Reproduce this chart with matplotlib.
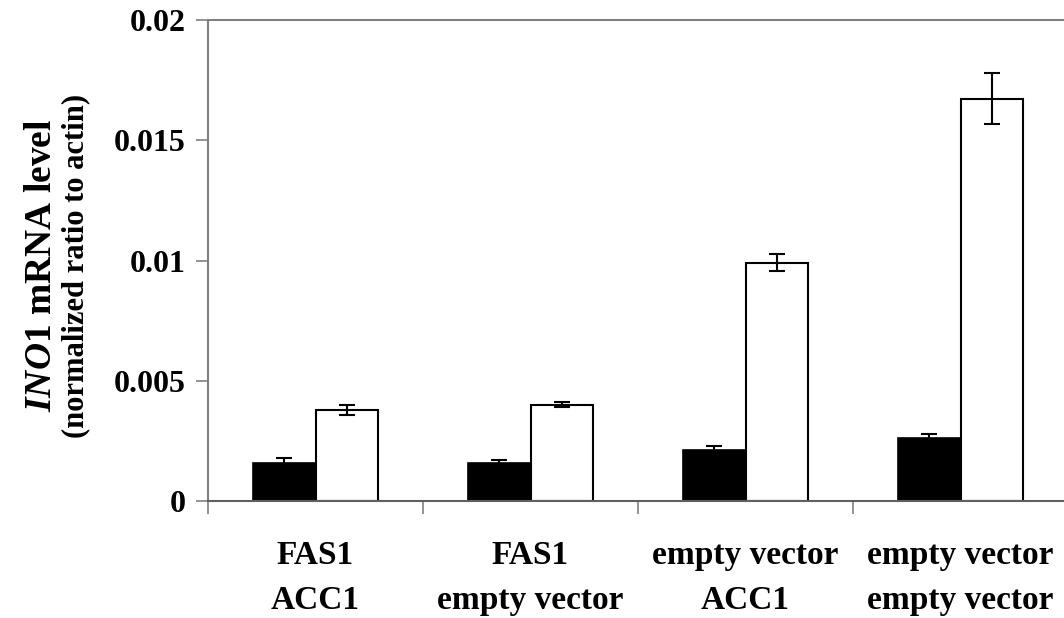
import matplotlib
matplotlib.use("Agg")
import matplotlib.pyplot as plt
import numpy as np

categories = ["FAS1\nACC1", "FAS1\nempty vector", "empty vector\nACC1", "empty vector\nempty vector"]
black_vals = [0.00159, 0.00159, 0.00212, 0.00260]
black_err = [0.00021, 0.00010, 0.00015, 0.00018]
white_vals = [0.00378, 0.00400, 0.00990, 0.01673]
white_err = [0.00020, 0.00011, 0.00035, 0.00106]
yticks = [0, 0.005, 0.01, 0.015, 0.02]
yticklabels = ["0", "0.005", "0.01", "0.015", "0.02"]

plt.rcParams['font.family'] = ['Liberation Serif', 'DejaVu Serif']
plt.rcParams['font.weight'] = 'bold'
plt.rcParams['mathtext.fontset'] = 'custom'
plt.rcParams['mathtext.it'] = 'Liberation Serif:italic:bold'
plt.rcParams['mathtext.rm'] = 'Liberation Serif:bold'

fig = plt.figure(figsize=(10.64, 6.18), dpi=100)
W, H = 1064, 618
ax = fig.add_axes([208 / W, (H - 501) / H, (1068 - 208) / W, (501 - 20) / H])

x = np.arange(len(categories))
bw = 0.29
ax.bar(x - bw / 2, black_vals, bw, color='black', edgecolor='black', linewidth=1.2, zorder=2)
ax.bar(x + bw / 2, white_vals, bw, color='white', edgecolor='black', linewidth=1.5, zorder=2)
ax.errorbar(x - bw / 2, black_vals, yerr=black_err, fmt='none', ecolor='black',
            elinewidth=1.5, capsize=5.5, capthick=1.5, zorder=3)
ax.errorbar(x + bw / 2, white_vals, yerr=white_err, fmt='none', ecolor='black',
            elinewidth=1.5, capsize=5.5, capthick=1.5, zorder=3)

ax.set_xlim(-0.5, 3.5)
ax.set_ylim(0, 0.02)
ax.set_yticks(yticks)
ax.set_yticklabels(yticklabels, fontsize=23, fontweight='bold')
ax.tick_params(axis='y', direction='out', length=9, width=1.2, color='#808080', pad=7)

ax.set_xticks(np.arange(-0.5, 4.0, 1.0))
ax.set_xticklabels([])
ax.tick_params(axis='x', which='major', direction='out', length=9, width=1.2, color='#808080')
ax.set_xticks(x, minor=True)
ax.set_xticklabels(categories, minor=True, fontsize=24, fontweight='bold', linespacing=1.6)
ax.tick_params(axis='x', which='minor', length=0, pad=28)

for s in ['left', 'top']:
    ax.spines[s].set_color('#808080')
    ax.spines[s].set_linewidth(1.5)
ax.spines['bottom'].set_color('#606060')
ax.spines['bottom'].set_linewidth(1.5)
ax.spines['right'].set_visible(False)

fig.text(42 / W, 1 - 265 / H, r"$\mathit{INO1}$ mRNA level", rotation=90, fontsize=27,
         fontweight='bold', ha='center', va='center')
fig.text(76 / W, 1 - 266 / H, "(normalized ratio to actin)", rotation=90, fontsize=22,
         fontweight='bold', ha='center', va='center')

fig.savefig("out.png", dpi=100)
